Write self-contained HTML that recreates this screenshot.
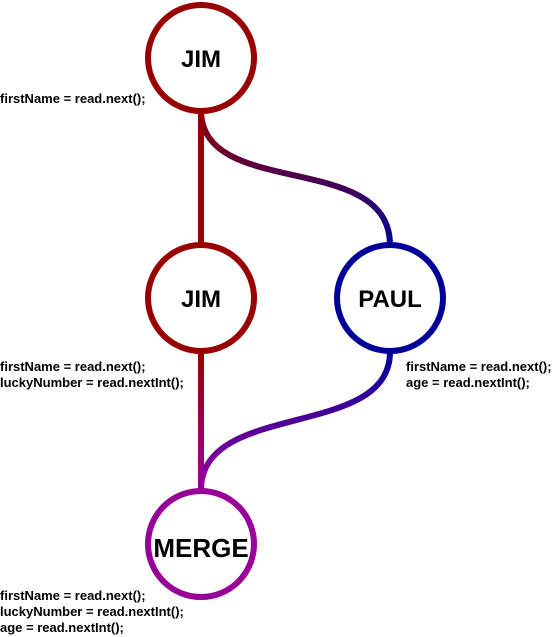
<!DOCTYPE html>
<html><head><style>html,body{margin:0;padding:0;background:#fff}svg{display:block}</style></head><body>
<svg width="554" height="637" xmlns="http://www.w3.org/2000/svg" font-family="Liberation Sans, Arial, sans-serif" font-weight="bold">
<defs>
<linearGradient id="g1" gradientUnits="userSpaceOnUse" x1="0" y1="112" x2="0" y2="243"><stop offset="0" stop-color="#990000"/><stop offset="1" stop-color="#000099"/></linearGradient>
<linearGradient id="g2" gradientUnits="userSpaceOnUse" x1="0" y1="353" x2="0" y2="488"><stop offset="0" stop-color="#990000"/><stop offset="1" stop-color="#990099"/></linearGradient>
<linearGradient id="g3" gradientUnits="userSpaceOnUse" x1="0" y1="353" x2="0" y2="488"><stop offset="0" stop-color="#000099"/><stop offset="1" stop-color="#990099"/></linearGradient>
</defs>
<g fill="none" stroke-width="6">
<line x1="201" y1="110" x2="201" y2="245" stroke="#990000"/>
<path d="M201,110 C201,200 390,150 390,245" stroke="url(#g1)"/>
<path d="M201,352 L201,490" stroke="url(#g2)"/>
<path d="M390,352 C390,440 201,400 201,490" stroke="url(#g3)"/>
<circle cx="201" cy="58" r="53" fill="#fff" stroke="#990000"/>
<circle cx="201" cy="298" r="53" fill="#fff" stroke="#990000"/>
<circle cx="390" cy="298" r="53" fill="#fff" stroke="#000099"/>
<circle cx="201" cy="544" r="53" fill="#fff" stroke="#990099"/>
</g>
<g font-size="24" text-anchor="middle" fill="#000">
<text x="201" y="67">JIM</text>
<text x="201" y="307">JIM</text>
<text x="390" y="307">PAUL</text>
<text x="201" y="557" font-size="26">MERGE</text>
</g>
<g font-size="13" fill="#000">
<text x="0" y="103">firstName = read.next();</text>
<text x="0" y="371">firstName = read.next();</text>
<text x="0" y="387">luckyNumber = read.nextInt();</text>
<text x="406" y="371">firstName = read.next();</text>
<text x="406" y="387">age = read.nextInt();</text>
<text x="0" y="600">firstName = read.next();</text>
<text x="0" y="616">luckyNumber = read.nextInt();</text>
<text x="0" y="632">age = read.nextInt();</text>
</g>
</svg>
</body></html>
